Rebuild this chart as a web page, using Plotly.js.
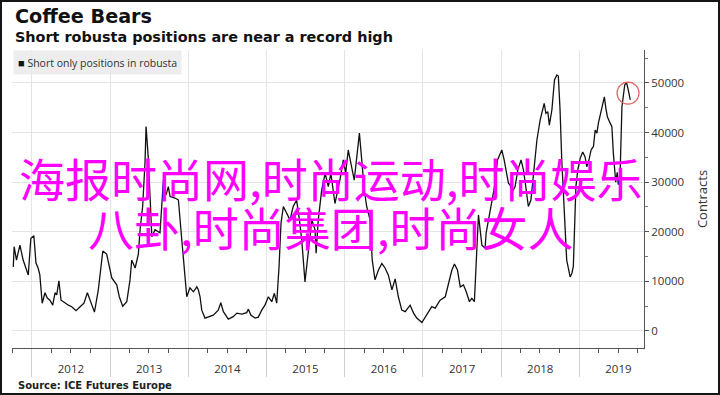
<!DOCTYPE html>
<html>
<head>
<meta charset="utf-8">
<script src="https://cdn.plot.ly/plotly-3.0.1.min.js"></script>
<style>
  html, body { margin: 0; padding: 0; background: #fff; }
  #wrap { position: relative; width: 720px; height: 395px; }
  #chart { width: 720px; height: 395px; }
  #frame { position: absolute; left: 0; top: 0; width: 720px; height: 395px; box-sizing: border-box; border: 2px solid #151515; pointer-events: none; }
</style>
</head>
<body>
<div id="wrap"><div id="chart"></div><div id="frame"></div></div>
<script>
// Weekly short-only positions in robusta (contracts), time as decimal year
const decimalYears = [
  2011.765, 2011.778, 2011.808, 2011.850, 2011.893, 2011.957, 2011.991,
  2012.029, 2012.055, 2012.084, 2012.106, 2012.136, 2012.170, 2012.199, 2012.234, 2012.269, 2012.298,
  2012.320, 2012.349, 2012.375, 2012.426, 2012.468, 2012.512, 2012.566, 2012.618, 2012.669, 2012.711,
  2012.746, 2012.801, 2012.852, 2012.908, 2012.959,
  2013.023, 2013.087, 2013.120, 2013.164, 2013.215, 2013.257, 2013.279, 2013.321, 2013.363, 2013.385,
  2013.419, 2013.449, 2013.462, 2013.491, 2013.513, 2013.535, 2013.577, 2013.641, 2013.683, 2013.717,
  2013.747, 2013.769, 2013.832, 2013.875, 2013.918, 2013.939, 2013.982,
  2014.024, 2014.066, 2014.110, 2014.130, 2014.152, 2014.174, 2014.216, 2014.258, 2014.322, 2014.386,
  2014.417, 2014.450, 2014.514, 2014.578, 2014.622, 2014.685, 2014.749, 2014.770, 2014.801, 2014.856,
  2014.898, 2014.941, 2014.983,
  2015.026, 2015.069, 2015.102, 2015.133, 2015.162, 2015.188, 2015.217, 2015.261, 2015.303, 2015.345,
  2015.389, 2015.422, 2015.453, 2015.495, 2015.537, 2015.581, 2015.623, 2015.636, 2015.665, 2015.708,
  2015.751, 2015.793, 2015.827, 2015.879, 2015.913, 2015.942, 2015.985,
  2016.015, 2016.049, 2016.092, 2016.125, 2016.156, 2016.189, 2016.220, 2016.253, 2016.284, 2016.326,
  2016.355, 2016.390, 2016.432, 2016.476, 2016.518, 2016.560, 2016.604, 2016.646, 2016.688, 2016.731,
  2016.774, 2016.838, 2016.880, 2016.923, 2016.987,
  2017.008, 2017.051, 2017.115, 2017.157, 2017.221, 2017.285, 2017.327, 2017.371, 2017.404, 2017.442,
  2017.477, 2017.519, 2017.554, 2017.596, 2017.627, 2017.660, 2017.691, 2017.711, 2017.754, 2017.797,
  2017.810, 2017.861, 2017.925, 2017.954, 2017.989,
  2018.010, 2018.040, 2018.065, 2018.095, 2018.116, 2018.146, 2018.180, 2018.215, 2018.257, 2018.286,
  2018.317, 2018.350, 2018.381, 2018.414, 2018.458, 2018.500, 2018.529, 2018.551, 2018.573, 2018.598,
  2018.619, 2018.650, 2018.683, 2018.714, 2018.734, 2018.756, 2018.778, 2018.798, 2018.820, 2018.841,
  2018.862, 2018.884, 2018.905, 2018.926, 2018.939, 2018.957, 2018.982,
  2019.011, 2019.046, 2019.075, 2019.097, 2019.126, 2019.152, 2019.182, 2019.203, 2019.225, 2019.246,
  2019.276, 2019.297, 2019.322, 2019.340, 2019.361, 2019.395, 2019.417, 2019.437, 2019.468, 2019.485,
  2019.501, 2019.523, 2019.546, 2019.581, 2019.603, 2019.623, 2019.654
];
const shortPositions = [
  12900, 17000, 14300, 17300, 14300, 11300, 18700,
  19200, 13700, 12700, 11300, 5600, 7700, 6700, 6200, 5200, 7700,
  7300, 10100, 6200, 5700, 5200, 4900, 4100, 4900, 5600, 7700,
  6200, 3800, 8300, 16100, 15500,
  10700, 9300, 6900, 5000, 5900, 10300, 14300, 12700, 15500, 20400,
  25100, 33900, 41200, 34500, 25100, 19000, 20400, 19800, 30400, 27400,
  29100, 27100, 26800, 26400, 18300, 14300, 6900,
  8700, 7900, 8900, 8300, 6900, 4200, 2600, 2900, 3200, 4200,
  5700, 3900, 2400, 2900, 3600, 3400, 3700, 4400, 3200, 2600,
  2800, 4200, 5200,
  6900, 5900, 7600, 5600, 13000, 21700, 25100, 23700, 22400, 25100,
  26400, 22400, 18300, 9900, 15700, 22400, 20400, 15700, 22400, 28400,
  31800, 29100, 31800, 25700, 28400, 30400, 34500,
  31800, 36500, 32800, 30400, 35100, 39900, 34500, 28400, 25100, 22400,
  14300, 10300, 12300, 13600, 12700, 11300, 8300, 10500, 6900, 4200,
  3900, 5200, 3600, 2600, 1700,
  2200, 3200, 4900, 4600, 6200, 6900, 9300, 12300, 13500, 12300,
  8900, 9300, 7900, 5900, 6600, 5900, 17000, 23400, 17300, 16700,
  19800, 24400, 29800, 34500, 35800,
  36500, 34500, 32500, 29800, 29400, 28100, 29100, 32500, 34500, 32500,
  29100, 25100, 26400, 31100, 38500, 42500, 44200, 45900, 43900, 44200,
  41500, 44600, 50600, 51600, 51400, 44600, 34500, 26400, 19700, 14300,
  12600, 10900, 11600, 13000, 19700, 29100, 32500,
  34800, 36100, 35100, 33100, 34500, 36500, 37200, 40500, 39900, 41900,
  43900, 45900, 47200, 44900, 43200, 41900, 41200, 35800, 30000, 32000,
  29500, 31000, 45200, 49600, 50100, 48900, 46600
];
const yTickVals = [0, 10000, 20000, 30000, 40000, 50000];
const titleText = "Coffee Bears";
const subtitleText = "Short robusta positions are near a record high";
const legendText = "Short only positions in robusta";
const sourceText = "Source: ICE Futures Europe";
const yAxisTitle = "Contracts";
const overlayLine1 = "海报时尚网,时尚运动,时尚娱乐";
const overlayLine2 = "八卦,时尚集团,时尚女人";

function decToDate(t) {
  const y = Math.floor(t);
  const a = Date.UTC(y, 0, 1), b = Date.UTC(y + 1, 0, 1);
  return new Date(a + (t - y) * (b - a)).toISOString().slice(0, 10);
}
const dates = decimalYears.map(decToDate);

// highlight the latest peak (within the last few weeks)
let peakIdx = dates.length - 6;
for (let i = dates.length - 6; i < dates.length; i++) {
  if (shortPositions[i] > shortPositions[peakIdx]) peakIdx = i;
}

const tickFont = { family: "Open Sans, Noto Sans, sans-serif", size: 11.5, color: "#333" };
const boldFont = "DejaVu Sans, Verdana, sans-serif";

const trace = {
  type: "scatter", mode: "lines",
  x: dates, y: shortPositions,
  line: { color: "#111", width: 1.3 },
  showlegend: false, hoverinfo: "skip"
};

const layout = {
  width: 720, height: 395,
  margin: { l: 12, r: 76, t: 50, b: 47 },
  paper_bgcolor: "#fff", plot_bgcolor: "#fff",
  showlegend: false,
  xaxis: {
    type: "date",
    range: ["2011-10-01", "2019-10-30"],
    tick0: "2012-01-01", dtick: "M12",
    tickformat: "%Y",
    ticklabelmode: "period",
    ticks: "outside", ticklen: 28, tickcolor: "#cfcfcf", tickwidth: 1,
    ticklabelstandoff: -18,
    showgrid: true, gridcolor: "#e4e4e4", gridwidth: 1,
    showline: true, linecolor: "#555", linewidth: 1,
    zeroline: false,
    tickfont: tickFont,
    minor: { dtick: "M3", tick0: "2012-01-01", ticks: "outside", ticklen: 4, tickcolor: "#555", showgrid: false }
  },
  yaxis: {
    side: "right",
    range: [-3430, 56650],
    tickvals: yTickVals,
    tickformat: "d",
    ticks: "outside", ticklen: 4, tickcolor: "#555",
    showgrid: true, gridcolor: "#e4e4e4", gridwidth: 1,
    showline: true, linecolor: "#555", linewidth: 1,
    zeroline: false,
    tickfont: tickFont,
    minor: { dtick: 5000, ticks: "outside", ticklen: 3, tickcolor: "#777", showgrid: false },
    title: { text: yAxisTitle, font: { family: "Open Sans, sans-serif", size: 13, color: "#333" }, standoff: 14 }
  },
  shapes: [{
    type: "circle", xref: "x", yref: "y",
    xsizemode: "pixel", ysizemode: "pixel",
    xanchor: dates[peakIdx], yanchor: shortPositions[peakIdx],
    x0: -9.4, x1: 12.6, y0: -21.6, y1: 0.4,
    line: { color: "#e06060", width: 1.2 }
  }],
  annotations: [
    { xref: "paper", yref: "paper", x: 0.0016, y: 1.114, xanchor: "left", yanchor: "middle",
      text: "<b>" + titleText + "</b>", showarrow: false,
      font: { family: boldFont, size: 19.2, color: "#111" } },
    { xref: "paper", yref: "paper", x: 0.0016, y: 1.0436, xanchor: "left", yanchor: "middle",
      text: "<b>" + subtitleText + "</b>", showarrow: false,
      font: { family: boldFont, size: 14.4, color: "#111" } },
    { xref: "paper", yref: "paper", x: 0.0016, y: 1.0, xanchor: "left", yanchor: "top",
      text: "<span style='font-size:11px;color:#111'>■</span> " + legendText, showarrow: false,
      bgcolor: "rgba(234,234,234,0.85)", borderpad: 4,
      font: { family: "Open Sans, sans-serif", size: 10.5, color: "#333" } },
    { xref: "paper", yref: "paper", x: 0.006, y: -0.1275, xanchor: "left", yanchor: "middle",
      text: "<b>" + sourceText + "</b>", showarrow: false,
      font: { family: boldFont, size: 10, color: "#222" } },
    { xref: "paper", yref: "paper", x: 0.505, y: 0.574, xanchor: "center", yanchor: "middle",
      text: overlayLine1, showarrow: false,
      font: { family: "Noto Sans CJK SC, sans-serif", size: 46, color: "#ff00ff" } },
    { xref: "paper", yref: "paper", x: 0.505, y: 0.4094, xanchor: "center", yanchor: "middle",
      text: overlayLine2, showarrow: false,
      font: { family: "Noto Sans CJK SC, sans-serif", size: 46, color: "#ff00ff" } }
  ]
};

Plotly.newPlot("chart", [trace], layout, { staticPlot: true, displayModeBar: false });
</script>
</body>
</html>
